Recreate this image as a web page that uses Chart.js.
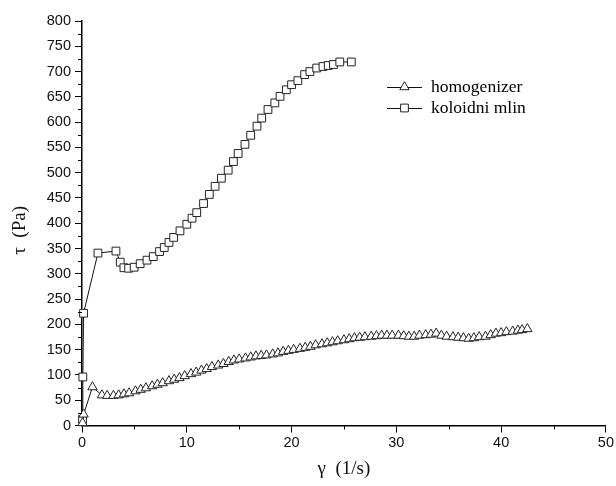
<!DOCTYPE html>
<html>
<head>
<meta charset="utf-8">
<script src="https://cdn.jsdelivr.net/npm/chart.js@4.4.1/dist/chart.umd.min.js"></script>
<style>
html, body { margin: 0; padding: 0; background: #fff; }
#chartContainer { width: 616px; height: 486px; }
</style>
</head>
<body>
<div id="chartContainer"><canvas id="line-chart" width="616" height="486"></canvas></div>
<script>
// shear rate (1/s) and shear stress (Pa)
var homogenizerX = [0.05, 0.15, 1.0, 1.9, 2.4, 3.0, 3.5, 4.0, 4.5, 5.1, 5.6, 6.1, 6.7, 7.2, 7.7, 8.3, 8.8, 9.3, 9.8,
    10.4, 10.9, 11.4, 11.9, 12.4, 13.0, 13.5, 14.0, 14.5, 15.0, 15.6, 16.1, 16.6, 17.1, 17.6, 18.2, 18.7, 19.2, 19.7,
    20.2, 20.8, 21.3, 21.8, 22.3, 22.9, 23.4, 23.9, 24.4, 25.0, 25.5, 26.0, 26.5, 27.0, 27.6, 28.1, 28.6, 29.1, 29.6,
    30.2, 30.7, 31.2, 31.7, 32.2, 32.8, 33.3, 33.8, 34.3, 34.8, 35.4, 35.9, 36.4, 36.9, 37.4, 37.9, 38.5, 39.0, 39.5,
    40.0, 40.5, 41.1, 41.6, 42.0, 42.5];
var homogenizerY = [5, 22, 76, 60, 59, 59, 60, 62, 64, 68, 71, 74, 78, 81, 84, 88, 91, 94, 98,
    102, 105, 109, 112, 116, 119, 122, 126, 129, 131, 133, 135, 137, 138, 139, 141, 143, 146, 148,
    150, 152, 154, 156, 159, 161, 163, 165, 167, 169, 171, 173, 174, 175, 176, 177, 178, 178, 178,
    178, 177, 176, 176, 178, 179, 180, 182, 178, 176, 175, 174, 173, 172, 173, 175, 176, 179, 182,
    183, 185, 186, 188, 189, 191];

var mlinX = [0.05, 0.08, 0.15, 1.52, 3.24, 3.65, 4.0, 4.45, 4.98, 5.55, 6.2, 6.8, 7.4, 7.85, 8.3, 8.75, 9.35,
    10.0, 10.5, 10.95, 11.6, 12.15, 12.7, 13.3, 13.95, 14.45, 14.9, 15.55, 16.1, 16.7, 17.15, 17.75, 18.4, 18.9,
    19.5, 20.0, 20.6, 21.25, 21.75, 22.4, 23.0, 23.5, 24.0, 24.6, 25.7];
var mlinY = [12, 96, 222, 341, 345, 323, 312, 311, 313, 320, 327, 334, 344, 352, 362, 372, 385,
    398, 410, 421, 439, 457, 473, 489, 505, 522, 538, 556, 574, 592, 608, 625, 638, 651,
    664, 674, 682, 694, 700, 707, 710, 712, 714, 719, 719];

var seriesLabels = ['homogenizer', 'koloidni mlin'];
var xTicksMax = 50;
var yTicksMax = 800;

function toPoints(xs, ys) {
    return xs.map(function(x, i) { return { x: x, y: ys[i] }; });
}

var sansFont = "'Liberation Sans', Arial, sans-serif";
var serifFont = "'Liberation Serif', 'Times New Roman', serif";

// short minor ticks between the labelled ones
var minorTicks = {
    id: 'minorTicks',
    afterDraw: function(chart) {
        var c = chart.ctx, xs = chart.scales.x, ys = chart.scales.y;
        c.save();
        c.strokeStyle = '#000';
        c.lineWidth = 1;
        c.beginPath();
        for (var v = 25; v < yTicksMax; v += 50) {
            var py = Math.round(ys.getPixelForValue(v)) + 0.5;
            c.moveTo(xs.left - 4, py);
            c.lineTo(xs.left, py);
        }
        for (var u = 5; u < xTicksMax; u += 10) {
            var px = Math.round(xs.getPixelForValue(u)) + 0.5;
            c.moveTo(px, ys.bottom);
            c.lineTo(px, ys.bottom + 4);
        }
        c.stroke();
        c.restore();
    }
};

// legend drawn as  —symbol—  label
var lineLegend = {
    id: 'lineLegend',
    afterDraw: function(chart) {
        var c = chart.ctx;
        var x0 = 387, x1 = 422, rows = [87, 108];
        chart.data.datasets.forEach(function(ds, i) {
            var y = rows[i];
            c.save();
            c.strokeStyle = ds.borderColor;
            c.lineWidth = 1;
            c.beginPath();
            c.moveTo(x0, y + 0.5);
            c.lineTo(x1, y + 0.5);
            c.stroke();
            c.fillStyle = '#fff';
            c.strokeStyle = ds.pointBorderColor;
            Chart.helpers.drawPoint(c, {
                pointStyle: ds.pointStyle,
                radius: ds.pointRadius,
                borderWidth: 1,
                rotation: 0
            }, (x0 + x1) / 2, y);
            c.fillStyle = '#000';
            c.font = "17.5px " + serifFont;
            c.textBaseline = 'middle';
            c.fillText(ds.label, 431, y);
            c.restore();
        });
    }
};

var ctx = document.getElementById('line-chart').getContext('2d');
var chart = new Chart(ctx, {
    type: 'line',
    data: {
        datasets: [{
            label: seriesLabels[0],
            data: toPoints(homogenizerX, homogenizerY),
            borderColor: '#111',
            borderWidth: 1,
            pointStyle: 'triangle',
            pointRadius: 5.4,
            pointBorderWidth: 1,
            pointBorderColor: '#222',
            pointBackgroundColor: '#fff',
            tension: 0,
            clip: false
        }, {
            label: seriesLabels[1],
            data: toPoints(mlinX, mlinY),
            borderColor: '#111',
            borderWidth: 1,
            pointStyle: 'rect',
            pointRadius: 5.5,
            pointBorderWidth: 1,
            pointBorderColor: '#222',
            pointBackgroundColor: '#fff',
            tension: 0,
            clip: false
        }]
    },
    options: {
        responsive: false,
        animation: false,
        layout: {
            padding: { top: 21, right: 9, left: 0, bottom: 0 }
        },
        plugins: {
            legend: { display: false },
            tooltip: { enabled: false }
        },
        scales: {
            x: {
                type: 'linear',
                min: 0,
                max: xTicksMax,
                afterFit: function(scale) { scale.height = 60.5; },
                ticks: {
                    stepSize: 10,
                    color: '#111',
                    padding: 2,
                    maxRotation: 0,
                    font: { family: sansFont, size: 14.5 }
                },
                grid: {
                    drawOnChartArea: false,
                    drawTicks: true,
                    tickLength: 7,
                    tickColor: '#000',
                    tickWidth: 1
                },
                border: { display: true, color: '#000', width: 1.5 },
                title: {
                    display: true,
                    text: 'γ  (1/s)',
                    color: '#111',
                    font: { family: serifFont, size: 19 },
                    padding: { top: 0, bottom: 6 }
                }
            },
            y: {
                type: 'linear',
                min: 0,
                max: yTicksMax,
                afterFit: function(scale) { scale.width = 82; },
                ticks: {
                    stepSize: 50,
                    color: '#111',
                    padding: 4,
                    font: { family: sansFont, size: 14.5 }
                },
                grid: {
                    drawOnChartArea: false,
                    drawTicks: true,
                    tickLength: 7,
                    tickColor: '#000',
                    tickWidth: 1
                },
                border: { display: true, color: '#000', width: 1.5 },
                title: {
                    display: true,
                    text: 'τ  (Pa)   ',
                    color: '#111',
                    font: { family: serifFont, size: 19 },
                    padding: { top: 9, bottom: 0 }
                }
            }
        }
    },
    plugins: [minorTicks, lineLegend]
});
</script>
</body>
</html>
